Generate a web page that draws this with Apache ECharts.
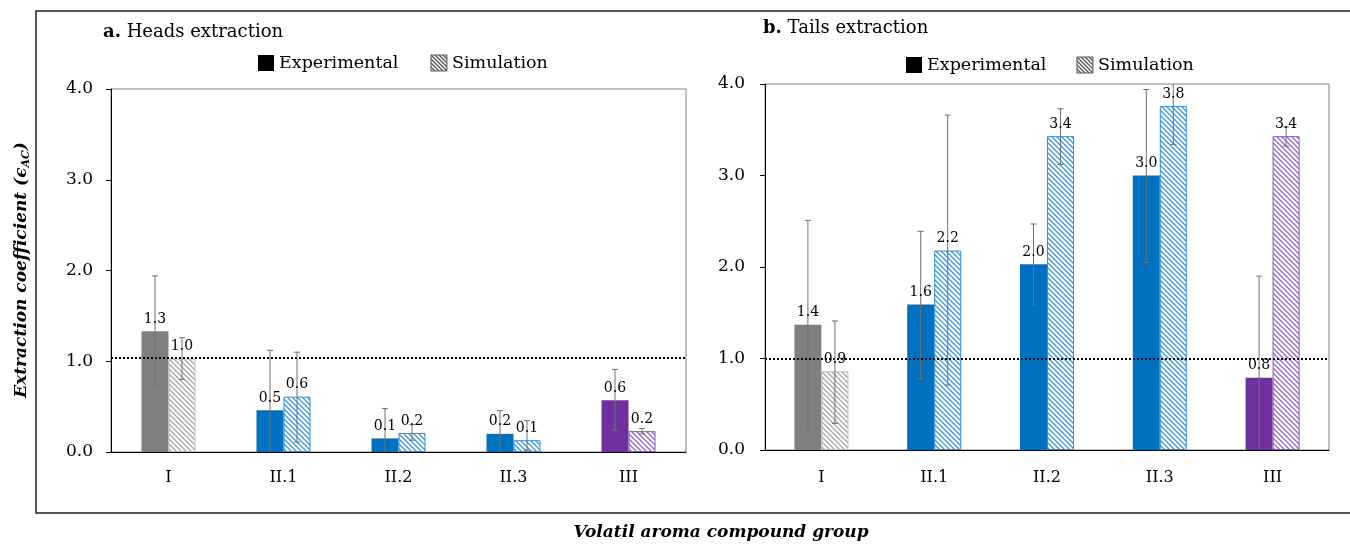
<!DOCTYPE html>
<html><head><meta charset="utf-8">
<script src="https://cdn.jsdelivr.net/npm/echarts@6/dist/echarts.min.js"></script>
<style>html,body{margin:0;padding:0;background:#fff}#c{width:1350px;height:544px}</style>
</head><body><div id="c"></div>
<script>
// ---- data ----
const categories = ['I', 'II.1', 'II.2', 'II.3', 'III'];
const headsExp     = [1.33, 0.46, 0.15, 0.20, 0.57];
const headsSim     = [1.03, 0.61, 0.21, 0.13, 0.23];
const headsExpLow  = [0.73, -0.20, -0.18, -0.06, 0.24];
const headsExpHigh = [1.94, 1.12, 0.48, 0.455, 0.91];
const headsSimLow  = [0.80, 0.11, 0.13, 0.02, 0.20];
const headsSimHigh = [1.26, 1.10, 0.30, 0.345, 0.26];
const tailsExp     = [1.37, 1.59, 2.03, 3.00, 0.79];
const tailsSim     = [0.86, 2.18, 3.43, 3.76, 3.43];
const tailsExpLow  = [0.22, 0.78, 1.58, 2.05, -0.32];
const tailsExpHigh = [2.51, 2.39, 2.47, 3.94, 1.90];
const tailsSimLow  = [0.29, 0.71, 3.12, 3.34, 3.32];
const tailsSimHigh = [1.41, 3.66, 3.73, 4.18, 3.53];
const refLevels = [1.04, 1.0];
const yMin = 0, yMax = 4, yStep = 1;

// ---- styles ----
const FONT = 'DejaVu Serif';
const expColors   = ['#7f7f7f', '#0070c0', '#0070c0', '#0070c0', '#7030a0'];
const simLine     = ['#a6a6a6', '#3d96da', '#3d96da', '#3d96da', '#9466c6'];
const simBorder   = ['#bfbfbf', '#2e8ede', '#2e8ede', '#2e8ede', '#8a58c2'];
const BW = 27;

function hatch(color, s) {
  s = s || 5;
  const c = document.createElement('canvas');
  c.width = c.height = s;
  const g = c.getContext('2d');
  g.fillStyle = '#fff'; g.fillRect(0, 0, s, s);
  g.strokeStyle = color; g.lineWidth = 1.3;
  g.beginPath();
  g.moveTo(-1, -1); g.lineTo(s + 1, s + 1);
  g.moveTo(-1, s - 1); g.lineTo(1, s + 1);
  g.moveTo(s - 1, -1); g.lineTo(s + 1, 1);
  g.stroke();
  return { image: c, repeat: 'repeat' };
}

function expData(vals) {
  return vals.map((v, i) => ({ value: v, itemStyle: { color: expColors[i] } }));
}
function simData(vals) {
  return vals.map((v, i) => ({ value: v, itemStyle: { color: hatch(simLine[i]), borderColor: simBorder[i], borderWidth: 1 } }));
}
function errData(vals, low, high) {
  return low.map((l, i) => [i, l, high[i], vals[i]]);
}
function errRender(sign) {
  return function (params, api) {
    const c = api.value(0), lo = api.value(1), hi = api.value(2), v = api.value(3);
    const x = api.coord([c, 0])[0] + sign * BW / 2;
    const yLo = api.coord([c, Math.max(lo, yMin)])[1];
    const yHi = api.coord([c, Math.min(hi, yMax)])[1];
    const yV = api.coord([c, v])[1];
    const st = { stroke: '#707070', lineWidth: 1, fill: null };
    const ch = [{ type: 'line', shape: { x1: x, y1: yLo, x2: x, y2: yHi }, style: st }];
    if (lo >= yMin) ch.push({ type: 'line', shape: { x1: x - 3, y1: yLo, x2: x + 3, y2: yLo }, style: st });
    if (hi <= yMax) ch.push({ type: 'line', shape: { x1: x - 3, y1: yHi, x2: x + 3, y2: yHi }, style: st });
    ch.push({ type: 'text', x: x, y: yV - 5, style: { text: v.toFixed(1), align: 'center', verticalAlign: 'bottom',
      fontFamily: FONT, fontSize: 14, fill: '#000' } });
    return { type: 'group', children: ch };
  };
}

function panelSeries(idx, exp, sim, eL, eH, sL, sH) {
  return [
    { name: 'Experimental', type: 'bar', xAxisIndex: idx, yAxisIndex: idx, barWidth: BW, barGap: '0%',
      data: expData(exp), z: 2,
      markLine: { silent: true, symbol: 'none', label: { show: false },
        lineStyle: { color: '#000', width: 2, type: [2, 2] }, data: [{ yAxis: refLevels[idx] }] } },
    { name: 'Simulation', type: 'bar', xAxisIndex: idx, yAxisIndex: idx, barWidth: BW, barGap: '0%',
      data: simData(sim), z: 2 },
    { type: 'custom', xAxisIndex: idx, yAxisIndex: idx, renderItem: errRender(-1), data: errData(exp, eL, eH),
      encode: { x: 0, y: [1, 2] }, z: 5, silent: true },
    { type: 'custom', xAxisIndex: idx, yAxisIndex: idx, renderItem: errRender(1), data: errData(sim, sL, sH),
      encode: { x: 0, y: [1, 2] }, z: 5, silent: true }
  ];
}

function xAxis(idx, margin) {
  return { type: 'category', gridIndex: idx, data: categories,
    axisLine: { lineStyle: { color: '#000', width: 1 } }, axisTick: { show: false },
    axisLabel: { color: '#000', fontFamily: FONT, fontSize: 16, margin: margin } };
}
function yAxis(idx, margin) {
  return { type: 'value', gridIndex: idx, min: yMin, max: yMax, interval: yStep,
    axisLine: { show: true, lineStyle: { color: '#000', width: 1 } },
    axisTick: { show: true, length: 5, lineStyle: { color: '#000' } },
    splitLine: { show: false },
    axisLabel: { color: '#000', fontFamily: FONT, fontSize: 17, margin: margin, formatter: v => v.toFixed(1) } };
}

const legendText = { color: '#000', fontFamily: FONT, fontSize: 17.5 };
const legendData = [
  { name: 'Experimental', icon: 'rect', itemStyle: { color: '#000', borderWidth: 0 } },
  { name: 'Simulation', icon: 'rect', itemStyle: { color: hatch('#555', 4), borderColor: '#555', borderWidth: 1 } }
];

const chart = echarts.init(document.getElementById('c'), null, { renderer: 'canvas' });
chart.setOption({
  animation: false,
  backgroundColor: '#fff',
  grid: [
    { left: 111, top: 89, width: 575, height: 363, show: true, borderColor: '#7f7f7f', borderWidth: 1, backgroundColor: 'transparent' },
    { left: 765, top: 84, width: 564, height: 366, show: true, borderColor: '#7f7f7f', borderWidth: 1, backgroundColor: 'transparent' }
  ],
  xAxis: [xAxis(0, 18), xAxis(1, 20)],
  yAxis: [yAxis(0, 18), yAxis(1, 20)],
  legend: [
    { left: 253, top: 49, itemWidth: 16, itemHeight: 16, itemGap: 32, textStyle: legendText, data: legendData, selectedMode: false },
    { left: 901, top: 51, itemWidth: 16, itemHeight: 16, itemGap: 30, textStyle: legendText, data: legendData, selectedMode: false }
  ],
  graphic: [
    { type: 'rect', shape: { x: 36, y: 11, width: 1400, height: 502 }, style: { fill: null, stroke: '#222', lineWidth: 1.5 }, silent: true },
    { type: 'text', x: 103, y: 32, style: { text: '{b|a.}{n| Heads extraction}', verticalAlign: 'middle',
        rich: { b: { fontFamily: FONT, fontWeight: 'bold', fontSize: 18, fill: '#000' }, n: { fontFamily: FONT, fontSize: 18, fill: '#000' } } } },
    { type: 'text', x: 763, y: 28, style: { text: '{b|b.}{n| Tails extraction}', verticalAlign: 'middle',
        rich: { b: { fontFamily: FONT, fontWeight: 'bold', fontSize: 18, fill: '#000' }, n: { fontFamily: FONT, fontSize: 18, fill: '#000' } } } },
    { type: 'text', x: 22, y: 270, rotation: Math.PI / 2, style: { text: '{m|Extraction coefficient (ϵ}{s|AC}{m|)}', align: 'center', verticalAlign: 'middle',
        rich: { m: { fontFamily: FONT, fontWeight: 'bold', fontStyle: 'italic', fontSize: 17, fill: '#000' },
                s: { fontFamily: FONT, fontWeight: 'bold', fontStyle: 'italic', fontSize: 11, fill: '#000', padding: [9, 0, 0, 0] } } } },
    { type: 'text', x: 721, y: 533, style: { text: 'Volatil aroma compound group', align: 'center', verticalAlign: 'middle',
        fontFamily: FONT, fontWeight: 'bold', fontStyle: 'italic', fontSize: 17, fill: '#000' } }
  ],
  series: [].concat(
    panelSeries(0, headsExp, headsSim, headsExpLow, headsExpHigh, headsSimLow, headsSimHigh),
    panelSeries(1, tailsExp, tailsSim, tailsExpLow, tailsExpHigh, tailsSimLow, tailsSimHigh)
  )
});
</script>
</body></html>
